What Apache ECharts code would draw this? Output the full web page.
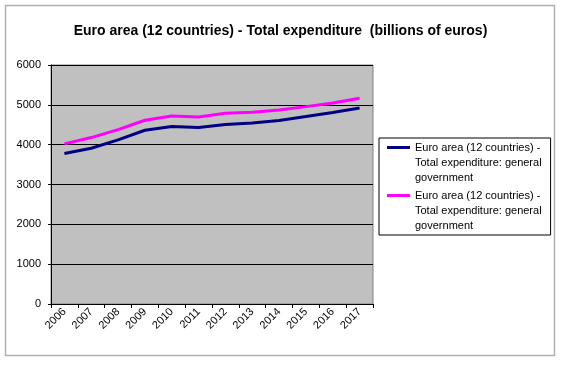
<!DOCTYPE html>
<html><head><meta charset="utf-8">
<script src="https://cdn.jsdelivr.net/npm/echarts@6/dist/echarts.min.js"></script>
<style>html,body{margin:0;padding:0;background:#fff}#c{width:561px;height:365px}</style>
</head><body><div id="c"></div>
<script>
const years = ['2006','2007','2008','2009','2010','2011','2012','2013','2014','2015','2016','2017'];
const seriesNames = ['Euro area (12 countries) - Total expenditure: general government','Euro area (12 countries) - Total expenditure: general government '];
const navyValues = [3777,3911,4120,4362,4454,4429,4504,4546,4604,4705,4805,4922];
const magentaValues = [4019,4178,4379,4613,4721,4696,4788,4813,4872,4955,5047,5164];
const yTicks = [0,1000,2000,3000,4000,5000,6000];

const chart = echarts.init(document.getElementById('c'));
const iconPath = 'path://M0,0h0.01v0.01h-0.01z M0,6h23v3h-23z M0,44.99h0.01v0.01h-0.01z';
chart.setOption({
  animation: false,
  title: {text: 'Euro area (12 countries) - Total expenditure  (billions of euros)', left: 'center', top: 19,
    textStyle: {fontFamily: 'Liberation Sans', fontSize: 14, fontWeight: 'bold', color: '#000'}},
  graphic: [{type: 'rect', shape: {x: 5.5, y: 5.5, width: 549, height: 350}, style: {fill: 'none', stroke: '#b0b0b0', lineWidth: 1.5}, silent: true}],
  grid: {left: 51, top: 65, width: 322, height: 239, show: true, backgroundColor: '#c0c0c0', borderColor: '#808080', borderWidth: 1},
  legend: {
    orient: 'vertical', left: 379, top: 138,
    itemWidth: 23, itemHeight: 45, itemGap: 3,
    padding: [2, 9, 2, 8],
    borderColor: '#000', borderWidth: 1, backgroundColor: '#fff',
    data: seriesNames.map(n => ({name: n, icon: iconPath})),
    formatter: function (n) { return 'Euro area (12 countries) -\nTotal expenditure: general\ngovernment'; },
    textStyle: {fontFamily: 'Liberation Sans', fontSize: 11, lineHeight: 15, color: '#000'}
  },
  xAxis: {type: 'category', data: years, boundaryGap: true,
    axisLine: {lineStyle: {color: '#000'}},
    axisTick: {show: true, length: 4, lineStyle: {color: '#000'}},
    axisLabel: {rotate: 45, fontFamily: 'Liberation Sans', fontSize: 11, color: '#000', margin: 6}},
  yAxis: {type: 'value', min: yTicks[0], max: yTicks[yTicks.length-1], interval: 1000,
    axisLine: {show: true, lineStyle: {color: '#000'}},
    axisTick: {show: true, length: 3, lineStyle: {color: '#000'}},
    splitLine: {lineStyle: {color: '#000', width: 1}},
    axisLabel: {fontFamily: 'Liberation Sans', fontSize: 11, color: '#000', margin: 10, formatter: v => String(v)}},
  series: [
    {name: seriesNames[0], type: 'line', data: navyValues, symbol: 'none', lineStyle: {color: '#000080', width: 3}, itemStyle: {color: '#000080'}},
    {name: seriesNames[1], type: 'line', data: magentaValues, symbol: 'none', lineStyle: {color: '#ff00ff', width: 3}, itemStyle: {color: '#ff00ff'}}
  ]
});
</script></body></html>
